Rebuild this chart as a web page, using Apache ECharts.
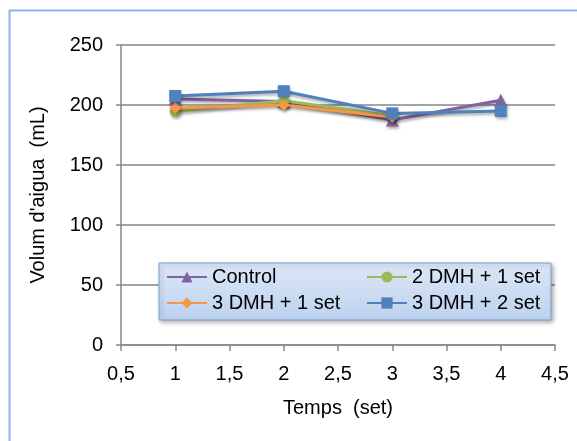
<!DOCTYPE html>
<html><head><meta charset="utf-8">
<script src="https://cdn.jsdelivr.net/npm/echarts@6/dist/echarts.min.js"></script>
<style>html,body{margin:0;padding:0;background:#fff}#c{width:577px;height:441px}</style>
</head><body><div id="c"></div>
<script>
var seriesNames = ['Control', '2 DMH + 1 set', '3 DMH + 1 set', '3 DMH + 2 set'];
var xControl = [1, 2, 3, 4];
var yControl = [205, 203, 187.5, 204];
var x2DMH1 = [1, 2, 3];
var y2DMH1 = [194.5, 203.5, 191];
var x3DMH1 = [1, 2, 3];
var y3DMH1 = [197.5, 200, 190];
var x3DMH2 = [1, 2, 3, 4];
var y3DMH2 = [207.5, 211.5, 193, 195];
var yTicks = [0, 50, 100, 150, 200, 250];
var xTicks = [0.5, 1, 1.5, 2, 2.5, 3, 3.5, 4, 4.5];

var colors = ['#8064A2', '#9BBB59', '#F79646', '#4F81BD'];
var symbols = ['triangle', 'circle', 'diamond', 'rect'];
var sizes = [13, 11, 12, 12];
var xs = [xControl, x2DMH1, x3DMH1, x3DMH2];
var ys = [yControl, y2DMH1, y3DMH1, y3DMH2];
var font = 'Liberation Sans, Arial, sans-serif';

function pairs(a, b) { return a.map(function (v, i) { return [v, b[i]]; }); }

var series = seriesNames.map(function (n, i) {
  return {
    name: n, type: 'line', data: pairs(xs[i], ys[i]),
    symbol: symbols[i], symbolSize: sizes[i], showSymbol: true,
    lineStyle: { color: colors[i], width: 3, shadowColor: 'rgba(0,0,0,0.35)', shadowBlur: 3, shadowOffsetX: 1, shadowOffsetY: 2 },
    itemStyle: { color: colors[i], shadowColor: 'rgba(0,0,0,0.35)', shadowBlur: 3, shadowOffsetX: 1, shadowOffsetY: 2 },
    z: 2 + i, animation: false
  };
});

var legTxt = { fontFamily: font, fontSize: 20, color: '#000' };
var chart = echarts.init(document.getElementById('c'));
chart.setOption({
  animation: false,
  backgroundColor: '#fff',
  graphic: [
    { type: 'rect', shape: { x: 9.5, y: 10.5, width: 620, height: 500 }, style: { fill: 'none', stroke: '#8EB4E3', lineWidth: 2 }, z: 0 },
    { type: 'rect', shape: { x: 159, y: 263, width: 392, height: 57 },
      style: { fill: new echarts.graphic.LinearGradient(0, 0, 0, 1, [{ offset: 0, color: '#DCE7F7' }, { offset: 1, color: '#BDD2EF' }]),
        stroke: '#7BA0D4', lineWidth: 1, shadowColor: 'rgba(0,0,0,0.3)', shadowBlur: 4, shadowOffsetX: 2, shadowOffsetY: 2 }, z: 10 }
  ],
  grid: { left: 121, right: 22, top: 45, bottom: 96, containLabel: false },
  xAxis: {
    type: 'value', min: 0.5, max: 4.5, interval: 0.5,
    name: 'Temps  (set)', nameLocation: 'middle', nameGap: 53,
    nameTextStyle: { fontFamily: font, fontSize: 20, color: '#000' },
    axisLine: { show: true, onZero: false, lineStyle: { color: '#868686', width: 1.5 } },
    axisTick: { show: true, length: 6, lineStyle: { color: '#868686', width: 1.5 } },
    splitLine: { show: false },
    axisLabel: { fontFamily: font, fontSize: 20, color: '#000', margin: 19,
      formatter: function (v) { return String(v).replace('.', ','); } }
  },
  yAxis: {
    type: 'value', min: 0, max: 250, interval: 50,
    name: "Volum d'aigua  (mL)", nameLocation: 'middle', nameGap: 73, nameRotate: 90,
    nameTextStyle: { fontFamily: font, fontSize: 20, color: '#000' },
    axisLine: { show: true, lineStyle: { color: '#868686', width: 1.5 } },
    axisTick: { show: true, length: 5, lineStyle: { color: '#868686', width: 1.5 } },
    splitLine: { show: true, lineStyle: { color: '#868686', width: 1.5 } },
    axisLabel: { fontFamily: font, fontSize: 20, color: '#000', margin: 18 }
  },
  legend: [
    { data: [seriesNames[0], seriesNames[2]], orient: 'vertical', left: 166, top: 267, itemWidth: 40, itemHeight: 14, itemGap: 6,
      textStyle: legTxt, z: 11, padding: 0 },
    { data: [seriesNames[1], seriesNames[3]], orient: 'vertical', left: 366, top: 267, itemWidth: 40, itemHeight: 14, itemGap: 6,
      textStyle: legTxt, z: 11, padding: 0 }
  ],
  series: series
});
</script></body></html>
